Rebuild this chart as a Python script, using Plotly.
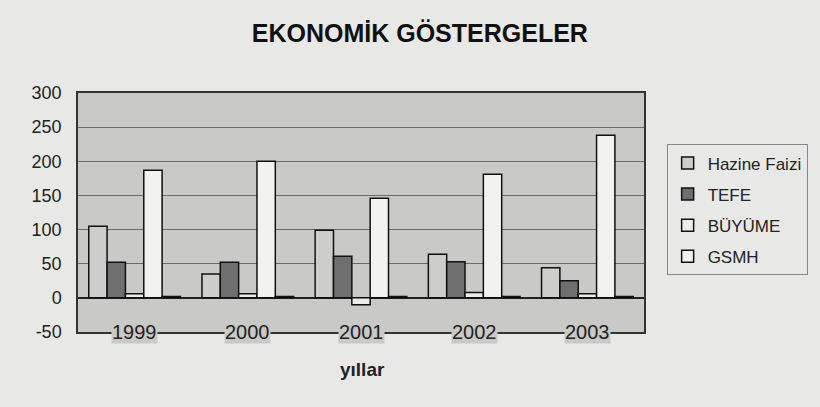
import plotly.graph_objects as go

years = ["1999", "2000", "2001", "2002", "2003"]
hazine_faizi = [105, 35, 99, 64, 44]
tefe = [52, 52, 61, 53, 25]
buyume = [6, 6, -10, 8, 6]
gsmh = [187, 200, 146, 181, 238]
extra = [2, 2, 2, 2, 2]
y_ticks = [-50, 0, 50, 100, 150, 200, 250, 300]
y_tick_text = ["-50", "0", "50", "100", "150", "200", "250", "300"]

PAPER = "#e8e8e6"
PLOT = "#c9c9c7"
FONT = "Liberation Sans, Arial, sans-serif"

fig = go.Figure()
series = [
    ("Hazine Faizi", hazine_faizi, "#cdcdcb", True),
    ("TEFE", tefe, "#6f6f6f", True),
    ("BÜYÜME", buyume, "#ececea", True),
    ("GSMH", gsmh, "#f2f2f0", True),
    ("", extra, "#222222", False),
]
for i, (name, vals, col, show) in enumerate(series):
    fig.add_trace(go.Bar(
        x=years, y=vals, name=name, showlegend=show, legendgroup=f"g{i}",
        marker=dict(color=col, line=dict(color="#111111", width=1.5)),
    ))

for i, yr in enumerate(years):
    fig.add_annotation(x=i, y=-50, xref="x", yref="y", text=yr, showarrow=False,
                       font=dict(family=FONT, size=20, color="#222"),
                       bgcolor=PLOT, borderpad=0, yanchor="middle")

fig.add_annotation(text="<b>yıllar</b>", x=0.502, xref="paper", y=-0.155, yref="paper",
                   yanchor="middle", showarrow=False,
                   font=dict(family=FONT, size=19, color="#222"))

fig.update_layout(
    width=820, height=407,
    paper_bgcolor=PAPER, plot_bgcolor=PLOT,
    margin=dict(l=78, r=168, t=93, b=75),
    barmode="group", bargap=0.19, bargroupgap=0,
    title=dict(text="<b>EKONOMİK GÖSTERGELER</b>", x=0.512, xanchor="center",
               y=0.918, yanchor="middle",
               font=dict(family=FONT, size=25, color="#111")),
    font=dict(family=FONT, color="#222"),
    xaxis=dict(type="category", range=[-0.5, 4.5], showticklabels=False, showline=True,
               linecolor="#333", linewidth=1.5, mirror=True, ticks="", showgrid=False),
    yaxis=dict(range=[-50, 300], tickvals=y_ticks, ticktext=y_tick_text, showgrid=True,
               gridcolor="#6a6a6a", gridwidth=1, zeroline=True,
               zerolinecolor="#222", zerolinewidth=1.5,
               showline=True, linecolor="#333", linewidth=1.5, mirror=True,
               tickfont=dict(size=18, color="#222"), ticks="", ticklen=0,
               ticklabelstandoff=11),
    legend=dict(x=1.04, y=0.785, xanchor="left", yanchor="top",
                bgcolor=PAPER, bordercolor="#888", borderwidth=1,
                font=dict(family=FONT, size=17, color="#222"),
                tracegroupgap=6, itemwidth=30),
)

fig.write_html("out.html")
